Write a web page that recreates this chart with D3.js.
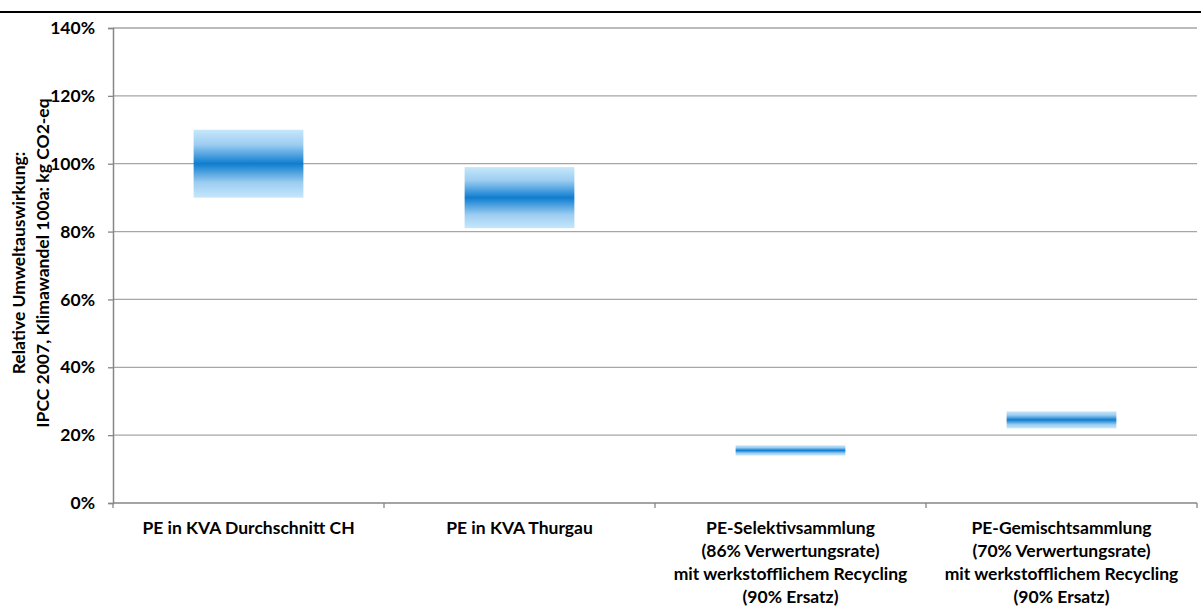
<!DOCTYPE html>
<html>
<head>
<meta charset="utf-8">
<script src="https://cdn.jsdelivr.net/npm/d3@7"></script>
<style>
  html, body { margin: 0; padding: 0; background: #fff; }
  svg { display: block; }
  text { font-family: Lato, "Open Sans", sans-serif; font-weight: bold; fill: #000; }
</style>
</head>
<body>
<svg id="chart" width="1201" height="608"></svg>
<script>
const categories = [
  "PE in KVA Durchschnitt CH",
  "PE in KVA Thurgau",
  "PE-Selektivsammlung\n(86% Verwertungsrate)\nmit werkstofflichem Recycling\n(90% Ersatz)",
  "PE-Gemischtsammlung\n(70% Verwertungsrate)\nmit werkstofflichem Recycling\n(90% Ersatz)"
];
const lowValues  = [0.90, 0.81, 0.14, 0.22];
const highValues = [1.10, 0.99, 0.17, 0.27];
const yTicks = [0, 0.2, 0.4, 0.6, 0.8, 1.0, 1.2, 1.4];
const yTitle = ["Relative Umweltauswirkung:", "IPCC 2007, Klimawandel 100a: kg CO2-eq"];

(function () {
const svg = d3.select("#chart");
const W = 1201, H = 608;
const pLeft = 113, pRight = 1197, pTop = 28, pBottom = 503;
const FS = "17.5px";

// top black rule
svg.append("line").attr("x1", 0).attr("x2", W).attr("y1", 12).attr("y2", 12)
  .attr("stroke", "#000").attr("stroke-width", 2);

const x = d3.scaleBand().domain(categories).range([pLeft, pRight]).padding(0);
const y = d3.scaleLinear().domain([0, 1.4]).range([pBottom, pTop]);

// gradient
const defs = svg.append("defs");
const grad = defs.append("linearGradient").attr("id", "barGrad")
  .attr("x1", 0).attr("y1", 0).attr("x2", 0).attr("y2", 1);
[[0, "#c6e7fb"], [0.22, "#9ccdf1"], [0.5, "#0e7dd0"], [0.78, "#9ccdf1"], [1, "#c6e7fb"]]
  .forEach(([o, c]) => grad.append("stop").attr("offset", o).attr("stop-color", c));

// gridlines
svg.append("g").selectAll("line").data(yTicks.filter(t => t > 0)).join("line")
  .attr("x1", pLeft).attr("x2", pRight)
  .attr("y1", d => y(d)).attr("y2", d => y(d))
  .attr("stroke", "#a6a6a6").attr("stroke-width", 1.3);

// y axis
const yAxis = svg.append("g").attr("transform", `translate(${pLeft},0)`)
  .call(d3.axisLeft(y).tickValues(yTicks).tickFormat(d3.format(".0%")).tickSize(5).tickPadding(13));
yAxis.select(".domain").attr("stroke", "#868686").attr("stroke-width", 1.5);
yAxis.selectAll(".tick line").attr("stroke", "#868686").attr("stroke-width", 1.3);
yAxis.selectAll(".tick text").style("font-size", FS).style("font-family", "Lato, sans-serif").style("font-weight", "bold").attr("fill", "#000");

// x axis
const xg = svg.append("g");
xg.append("line").attr("x1", pLeft).attr("x2", pRight).attr("y1", pBottom).attr("y2", pBottom)
  .attr("stroke", "#868686").attr("stroke-width", 1.5);
const bounds = categories.map(c => x(c)).concat([x(categories[categories.length - 1]) + x.bandwidth()]);
xg.selectAll("line.tk").data(bounds).join("line").attr("class", "tk")
  .attr("x1", d => d).attr("x2", d => d).attr("y1", pBottom).attr("y2", pBottom + 5)
  .attr("stroke", "#868686").attr("stroke-width", 1.3);

// category labels
categories.forEach(c => {
  const cx = x(c) + x.bandwidth() / 2;
  const t = svg.append("text").attr("text-anchor", "middle").style("font-size", FS);
  c.split("\n").forEach((line, i) => {
    t.append("tspan").attr("x", cx).attr("y", 533.5 + i * 23.2).text(line);
  });
});

// bars
const barW = x.bandwidth() * 0.405;
svg.append("g").selectAll("rect").data(categories).join("rect")
  .attr("x", (c) => x(c) + (x.bandwidth() - barW) / 2)
  .attr("width", barW)
  .attr("y", (c, i) => y(highValues[i]))
  .attr("height", (c, i) => y(lowValues[i]) - y(highValues[i]))
  .attr("fill", "url(#barGrad)");

// y title
const yt = svg.append("text").attr("text-anchor", "middle")
  .attr("transform", "translate(0,263) rotate(-90)").style("font-size", FS);
yTitle.forEach((line, i) => {
  yt.append("tspan").attr("x", 0).attr("y", 25 + i * 24).text(line);
});
})();
</script>
</body>
</html>
